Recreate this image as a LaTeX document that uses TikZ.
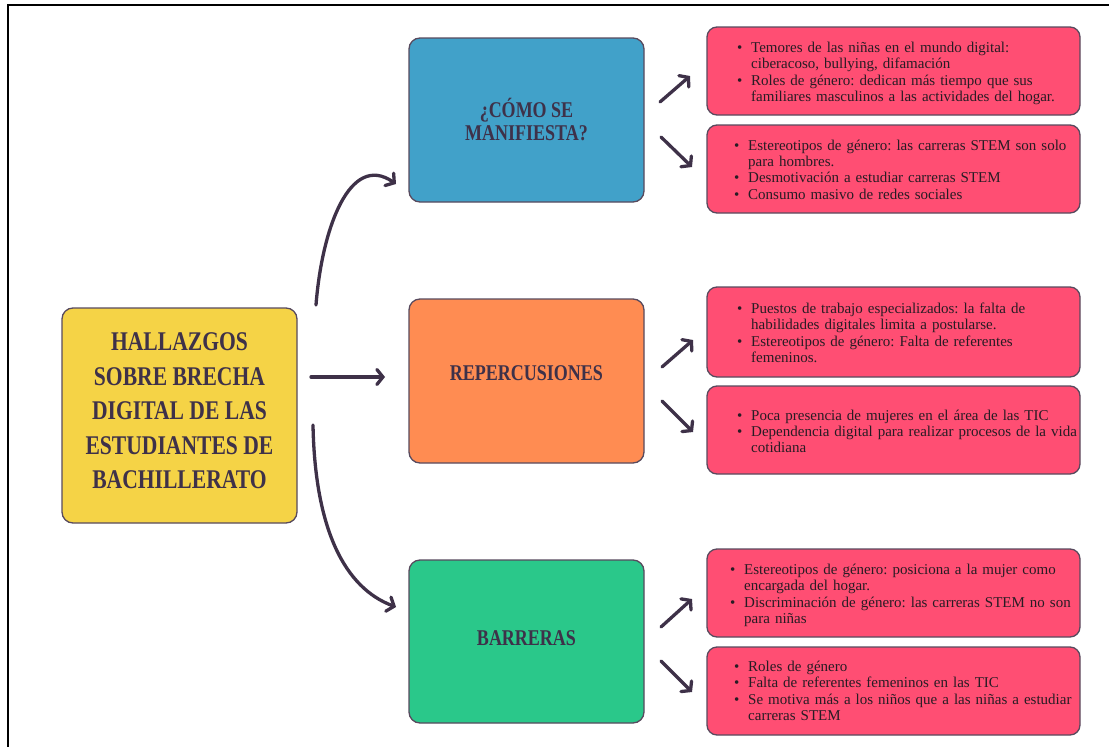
\documentclass[tikz,border=0pt]{standalone}
\usepackage{fontspec}
\setmainfont{Liberation Serif}
\newfontfamily\titlefont[FakeStretch=0.8]{Liberation Serif}
\usetikzlibrary{arrows.meta}
\definecolor{boxblue}{RGB}{65,161,201}
\definecolor{boxorange}{RGB}{255,140,82}
\definecolor{boxgreen}{RGB}{42,200,138}
\definecolor{boxyellow}{RGB}{245,211,70}
\definecolor{boxred}{RGB}{255,78,115}
\definecolor{edgec}{RGB}{88,74,94}
\definecolor{arrowc}{RGB}{62,49,72}
\definecolor{titlec}{RGB}{62,49,73}
\definecolor{bodyc}{RGB}{40,28,36}
\newcommand{\bitem}[1]{\par\hangindent=14pt\hangafter=1\noindent\hbox to 14pt{\textbullet\hfil}#1\par}
\frenchspacing
\begin{document}
\begin{tikzpicture}[x=1pt,y=-1pt,
  mainbox/.style={draw=edgec, line width=1.3pt, rounded corners=11pt, inner sep=0pt,
    text=titlec, align=center},
  bigtitle/.style={font=\titlefont\bfseries\fontsize{27}{34.5}\selectfont},
  midtitle/.style={font=\titlefont\bfseries\fontsize{22.5}{23}\selectfont},
  redbox/.style={draw=edgec, line width=1.3pt, rounded corners=10pt, fill=boxred,
    minimum width=373pt, inner sep=0pt},
  redtext/.style={anchor=west, inner sep=0pt, text width=350pt, align=left, text=bodyc,
    font=\frenchspacing\fontsize{15}{16.3}\selectfont},
  conn/.style={draw=arrowc, line width=3.3pt, line cap=round,
    -{Straight Barb[length=6pt,width=15pt,line cap=round]}},
  frame/.style={draw=black, line width=2.2pt}
]
\useasboundingbox (0,0) rectangle (1109,747);
\fill[white] (0,0) rectangle (1109,747);
% frame
\coordinate (fa) at (8,747);
\coordinate (fb) at (8,5);
\coordinate (fc) at (1109,5);
\draw[frame] (fa) -- (fb) -- (fc);

% main boxes
\node[mainbox, bigtitle, fill=boxyellow, minimum width=235pt, minimum height=215pt, text depth=9pt]
  (root) at (179.5,415.5) {HALLAZGOS\\SOBRE BRECHA\\DIGITAL DE LAS\\ESTUDIANTES DE\\BACHILLERATO};
\node[mainbox, midtitle, fill=boxblue, minimum width=235pt, minimum height=164pt]
  (como) at (526.5,120) {¿CÓMO SE\\MANIFIESTA?};
\node[mainbox, midtitle, fill=boxorange, minimum width=235pt, minimum height=164pt, text depth=15pt]
  (rep) at (526.5,381) {REPERCUSIONES};
\node[mainbox, midtitle, fill=boxgreen, minimum width=235pt, minimum height=163pt, text depth=7pt]
  (bar) at (526.5,641.5) {BARRERAS};

% red boxes
\node[redbox, minimum height=88pt] (r1) at (893.5,71) {};
\node[redbox, minimum height=88pt] (r2) at (893.5,169) {};
\node[redbox, minimum height=90pt] (r3) at (893.5,332) {};
\node[redbox, minimum height=88pt] (r4) at (893.5,430) {};
\node[redbox, minimum height=88pt] (r5) at (893.5,593) {};
\node[redbox, minimum height=88pt] (r6) at (893.5,691) {};

\node[redtext] (t1) at (737,70.5) {%
\bitem{Temores de las niñas en el mundo digital:\newline ciberacoso, bullying, difamación}
\bitem{Roles de género: dedican más tiempo que sus\newline familiares masculinos a las actividades del hogar.}};
\node[redtext] (t2) at (734,166.5) {%
\bitem{Estereotipos de género: las carreras STEM son solo\newline para hombres.}
\bitem{Desmotivación a estudiar carreras STEM}
\bitem{Consumo masivo de redes sociales}};
\node[redtext] (t3) at (737,330) {%
\bitem{Puestos de trabajo especializados: la falta de\newline habilidades digitales limita a postularse.}
\bitem{Estereotipos de género: Falta de referentes\newline femeninos.}};
\node[redtext] (t4) at (737,428.5) {%
\bitem{Poca presencia de mujeres en el área de las TIC}
\bitem{Dependencia digital para realizar procesos de la vida\newline cotidiana}};
\node[redtext] (t5) at (730,592.5) {%
\bitem{Estereotipos de género: posiciona a la mujer como\newline encargada del hogar.}
\bitem{Discriminación de género: las carreras STEM no son\newline para niñas}};
\node[redtext] (t6) at (734,688) {%
\bitem{Roles de género}
\bitem{Falta de referentes femeninos en las TIC}
\bitem{Se motiva más a los niños que a las niñas a estudiar\newline carreras STEM}};

% connectors from root
\coordinate (a1s) at (316,305);
\coordinate (a1e) at (396,184);
\draw[conn] (a1s) .. controls (322,228) and (350,152) .. (a1e);
\coordinate (a2s) at (311,377);
\coordinate (a2e) at (385,377);
\draw[conn] (a2s) -- (a2e);
\coordinate (a3s) at (313,425);
\coordinate (a3e) at (396,607);
\draw[conn] (a3s) .. controls (315,530) and (345,588) .. (a3e);

% small arrows
\coordinate (b1s) at (660,102); \coordinate (b1e) at (690,76);
\coordinate (b2s) at (661,137); \coordinate (b2e) at (692,167);
\coordinate (b3s) at (662,367); \coordinate (b3e) at (693,340);
\coordinate (b4s) at (662,401); \coordinate (b4e) at (693,432);
\coordinate (b5s) at (661,627); \coordinate (b5e) at (692,599);
\coordinate (b6s) at (661,661); \coordinate (b6e) at (692,692);
\foreach \k in {1,...,6} {\draw[conn] (b\k s) -- (b\k e);}
\end{tikzpicture}
\end{document}
